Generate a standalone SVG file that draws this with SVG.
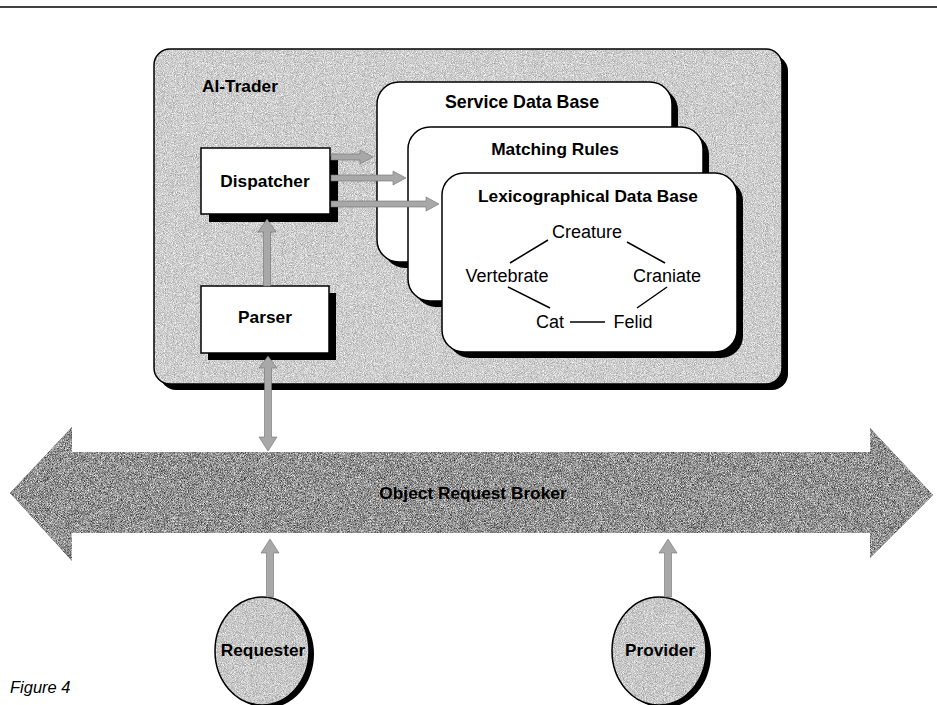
<svg xmlns="http://www.w3.org/2000/svg" width="937" height="705" viewBox="0 0 937 705">
<style>
text{font-family:"Liberation Sans",Arial,sans-serif;fill:#000}
.b{font-weight:bold;font-size:17.3px}
.r{font-size:18px}
.c{text-anchor:middle}
.ol{fill:none;stroke:#000;stroke-width:1.5}
.sh{fill:#000}
.wb{fill:#fff;stroke:#000;stroke-width:1.5}
.gl{stroke:#000;stroke-width:1.5;fill:none}
.arr{fill:#a8a8a8;stroke:#707070;stroke-width:0.6}
</style>
<defs>
<filter id="grain" x="0" y="0" width="100%" height="100%" color-interpolation-filters="sRGB">
<feTurbulence type="fractalNoise" baseFrequency="1.1" numOctaves="2" seed="4" result="n"/>
<feColorMatrix in="n" type="matrix" values="1 0 0 0 0  1 0 0 0 0  1 0 0 0 0  0 0 0 0 1" result="g"/>
<feComposite in="SourceGraphic" in2="g" operator="arithmetic" k1="0" k2="1" k3="0.6" k4="-0.3" result="m"/>
<feComposite in="m" in2="SourceGraphic" operator="in"/>
</filter>
<filter id="grain2" x="0" y="0" width="100%" height="100%" color-interpolation-filters="sRGB">
<feTurbulence type="fractalNoise" baseFrequency="1.3" numOctaves="2" seed="9" result="n"/>
<feColorMatrix in="n" type="matrix" values="1 0 0 0 0  1 0 0 0 0  1 0 0 0 0  0 0 0 0 1" result="g"/>
<feComposite in="SourceGraphic" in2="g" operator="arithmetic" k1="0" k2="1" k3="1.2" k4="-0.6" result="m"/>
<feComposite in="m" in2="SourceGraphic" operator="in"/>
</filter>
</defs>

<line x1="0" y1="7" x2="937" y2="7" stroke="#000" stroke-width="1.5"/>

<g id="ai-trader">
<rect class="sh" x="160" y="55" width="628" height="335" rx="16"/>
<rect x="154" y="49" width="628" height="335" rx="16" fill="#cdcdcd" filter="url(#grain)"/>
<rect class="ol" x="154" y="49" width="628" height="335" rx="16"/>
<text class="b" x="202" y="92">AI-Trader</text>
</g>

<g id="service-db">
<rect class="sh" x="383" y="88" width="295" height="180" rx="22"/>
<rect class="wb" x="377" y="82" width="295" height="180" rx="22"/>
<text class="b c" x="522" y="108" style="font-size:17.8px">Service Data Base</text>
</g>

<g id="matching-rules">
<rect class="sh" x="414" y="133" width="295" height="174" rx="22"/>
<rect class="wb" x="408" y="127" width="295" height="174" rx="22"/>
<text class="b c" x="555" y="155">Matching Rules</text>
</g>

<g id="lexico-db">
<rect class="sh" x="448" y="179" width="295" height="179" rx="22"/>
<rect class="wb" x="442" y="173" width="295" height="179" rx="22"/>
<text class="b c" x="588" y="202">Lexicographical Data Base</text>
<text class="r c" x="587" y="238">Creature</text>
<text class="r c" x="507" y="282">Vertebrate</text>
<text class="r c" x="667" y="282">Craniate</text>
<text class="r c" x="550" y="328">Cat</text>
<text class="r c" x="633" y="328">Felid</text>
<line class="gl" x1="548" y1="240" x2="510" y2="263"/>
<line class="gl" x1="627" y1="242" x2="665" y2="263"/>
<line class="gl" x1="508" y1="287" x2="550" y2="308"/>
<line class="gl" x1="667" y1="287" x2="637" y2="308"/>
<line class="gl" x1="570" y1="322" x2="605" y2="322"/>
</g>

<g id="dispatcher">
<rect class="sh" x="209" y="156" width="129" height="66"/>
<rect class="wb" x="201" y="148" width="129" height="66"/>
<text class="b c" x="265" y="187">Dispatcher</text>
</g>

<g id="parser">
<rect class="sh" x="208" y="293" width="128" height="67"/>
<rect class="wb" x="201" y="286" width="128" height="67"/>
<text class="b c" x="265" y="323">Parser</text>
</g>

<g id="orb">
<polygon points="10,493 72,427 72,452 870,452 870,428 933,495 870,558 870,533 72,533 72,561" fill="#929292" filter="url(#grain2)"/>
<text class="b c" x="473" y="499">Object Request Broker</text>
</g>

<g id="requester">
<ellipse class="sh" cx="267" cy="654" rx="47" ry="54"/>
<ellipse cx="262" cy="651" rx="47" ry="54" fill="#c8c8c8" filter="url(#grain)"/>
<ellipse class="ol" cx="262" cy="651" rx="47" ry="54"/>
<text class="b c" x="263" y="656">Requester</text>
</g>

<g id="provider">
<ellipse class="sh" cx="664" cy="654" rx="47" ry="54"/>
<ellipse cx="659" cy="651" rx="47" ry="54" fill="#c8c8c8" filter="url(#grain)"/>
<ellipse class="ol" cx="659" cy="651" rx="47" ry="54"/>
<text class="b c" x="660" y="656">Provider</text>
</g>

<g id="connectors">
<polygon class="arr" points="331,154 360,154 360,150 373,157 360,164 360,160 331,160"/>
<polygon class="arr" points="331,175 393,175 393,171 406,178 393,185 393,181 331,181"/>
<polygon class="arr" points="331,201 426,201 426,197 439,204 426,211 426,207 331,207"/>
<polygon class="arr" points="267,219 276,232 270.5,232 270.5,286 263.5,286 263.5,232 258,232"/>
<polygon class="arr" points="268,356 277,368 271.5,368 271.5,437 277,437 268,451 259,437 264.5,437 264.5,368 259,368"/>
<polygon class="arr" points="270,539 279,553 273.5,553 273.5,597 266.5,597 266.5,553 261,553"/>
<polygon class="arr" points="668,539 677,553 671.5,553 671.5,597 664.5,597 664.5,553 659,553"/>
</g>

<text x="10" y="693" style="font-size:16.5px;font-style:italic">Figure 4</text>
</svg>
